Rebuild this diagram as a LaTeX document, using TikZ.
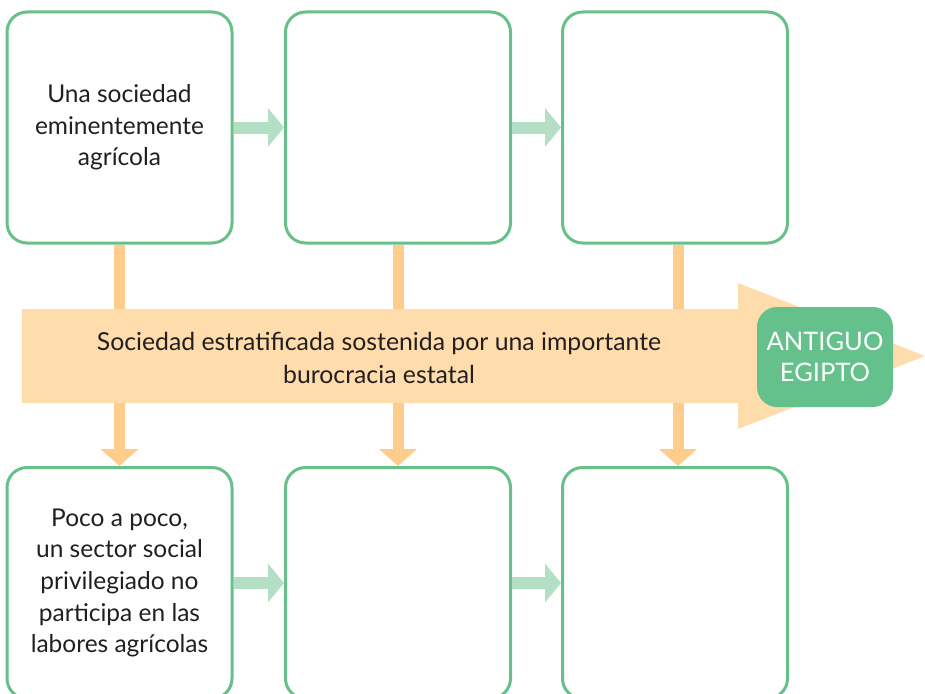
\documentclass[tikz,border=0pt]{standalone}
\usepackage{fontspec}
\setmainfont{Lato}
\usetikzlibrary{arrows.meta}
\definecolor{boxgreen}{HTML}{67C08A}
\definecolor{lightgreen}{HTML}{B3DFC4}
\definecolor{shaftorange}{HTML}{FECD8B}
\definecolor{bandorange}{HTML}{FEDCAC}
\definecolor{labelgreen}{HTML}{64C18C}
\definecolor{textdark}{HTML}{231F20}
\begin{document}
\begin{tikzpicture}[x=1pt,y=-1pt,
  stepbox/.style={draw=boxgreen, line width=3pt, rounded corners=20pt, fill=white,
    minimum width=225pt, minimum height=231pt, inner sep=0pt, align=center,
    font=\fontsize{24.5}{31.7}\selectfont, text=textdark},
  garrow/.style={draw=lightgreen, line width=12pt, -{Triangle[length=16pt,width=38pt]}},
  oarrow/.style={draw=shaftorange, line width=11pt, -{Triangle[length=17pt,width=37pt]}},
  bandtext/.style={align=center, font=\fontsize{24.8}{33}\selectfont, text=textdark},
  egbox/.style={fill=labelgreen, rounded corners=20pt, minimum width=136pt, minimum height=100pt,
    inner sep=0pt, align=center, text=white, font=\fontsize{25.5}{31}\selectfont}]
\useasboundingbox (0,0) rectangle (925,693);
\clip (0,0) rectangle (925,693);
% boxes
\node[stepbox] (b1) at (119.5,127.5) {Una sociedad\\eminentemente\\agrícola};
\node[stepbox] (b2) at (398,127.5) {};
\node[stepbox] (b3) at (675,127.5) {};
\node[stepbox] (b4) at (119.5,583) {Poco a poco,\\un sector social\\privilegiado no\\participa en las\\labores agrícolas};
\node[stepbox] (b5) at (398,583) {};
\node[stepbox] (b6) at (675,583) {};
% horizontal arrows
\draw[garrow] (b1.east) -- (b2.west);
\draw[garrow] (b2.east) -- (b3.west);
\draw[garrow] (b4.east) -- (b5.west);
\draw[garrow] (b5.east) -- (b6.west);
% vertical arrows
\draw[oarrow] (b1.south) -- (b4.north);
\draw[oarrow] (b2.south) -- (b5.north);
\draw[oarrow] ([xshift=3pt]b3.south) -- ([xshift=3pt]b6.north);
% band
\fill[bandorange] (22,309) -- (738,309) -- (738,283) -- (925,356) -- (738,429) -- (738,403) -- (22,403) -- cycle;
\node[bandtext] (band) at (379,358) {Sociedad estratificada sostenida por una importante\\burocracia estatal};
\node[egbox] (egipto) at (825,357) {ANTIGUO\\EGIPTO};
\end{tikzpicture}
\end{document}
